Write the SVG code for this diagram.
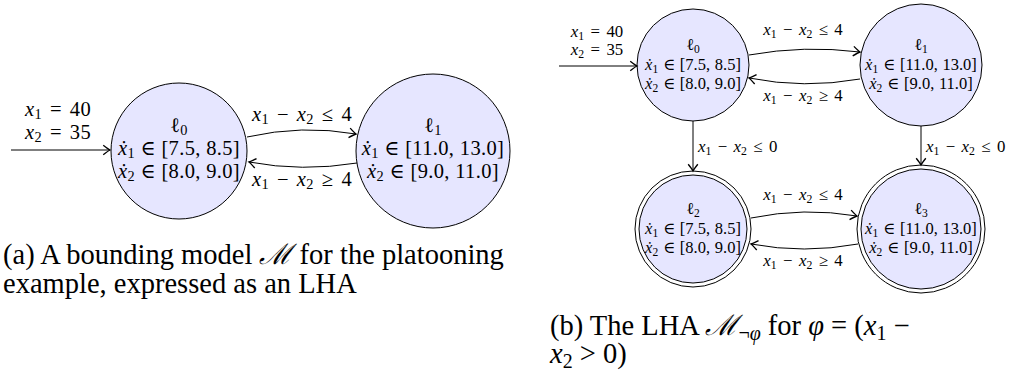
<svg xmlns="http://www.w3.org/2000/svg" width="1012" height="371" viewBox="0 0 1012 371">
<style>
text { font-family: "Liberation Serif", "DejaVu Serif", serif; fill: #000; }
.a { font-size: 20.5px; letter-spacing: 0.35px; text-anchor: middle; }
.al { font-size: 20.5px; letter-spacing: 0.35px; word-spacing: 2.5px; text-anchor: middle; }
.b { font-size: 16.5px; word-spacing: 0.6px; text-anchor: middle; }
.bl { font-size: 16.8px; word-spacing: 2.2px; text-anchor: middle; }
.bs { font-size: 16.8px; word-spacing: 2.2px; text-anchor: start; }
.cap { font-size: 28.5px; text-anchor: start; }
.i { font-style: italic; }
.node { fill: #e6e6ff; stroke: #000; stroke-width: 1; }
.ring { fill: #fff; stroke: #000; stroke-width: 1; }
.edge { fill: none; stroke: #000; stroke-width: 1; marker-end: url(#arr); }
</style>
<defs>
<marker id="arr" markerUnits="userSpaceOnUse" markerWidth="12" markerHeight="12" viewBox="-6 -4 8 8" refX="0" refY="0" orient="auto">
<path d="M-4.5,-3.2 Q-1.2,-0.6 0,0 Q-1.2,0.6 -4.5,3.2" fill="none" stroke="#000" stroke-width="0.9"/>
</marker>
</defs>

<!-- Panel (a) -->
<g id="a-l0">
<circle class="node" cx="179" cy="151" r="68"/>
<text class="a" x="179" y="132">ℓ<tspan font-size="0.7em" dy="3">0</tspan></text>
<text class="a" x="179" y="155"><tspan class="i">ẋ</tspan><tspan font-size="0.7em" dy="3">1</tspan><tspan dy="-3"> ∈ [7.5, 8.5]</tspan></text>
<text class="a" x="179" y="178"><tspan class="i">ẋ</tspan><tspan font-size="0.7em" dy="3">2</tspan><tspan dy="-3"> ∈ [8.0, 9.0]</tspan></text>
</g>
<g id="a-l1">
<circle class="node" cx="433" cy="151" r="77"/>
<text class="a" x="433" y="132">ℓ<tspan font-size="0.7em" dy="3">1</tspan></text>
<text class="a" x="433" y="155"><tspan class="i">ẋ</tspan><tspan font-size="0.7em" dy="3">1</tspan><tspan dy="-3"> ∈ [11.0, 13.0]</tspan></text>
<text class="a" x="433" y="178"><tspan class="i">ẋ</tspan><tspan font-size="0.7em" dy="3">2</tspan><tspan dy="-3"> ∈ [9.0, 11.0]</tspan></text>
</g>
<g id="a-edges">
<path class="edge" d="M11,150 L110,150"/>
<path class="edge" d="M247,137 Q302,124.5 356,134"/>
<path class="edge" d="M357,163 Q302,172 249,162"/>
<text class="al" x="58" y="116"><tspan class="i">x</tspan><tspan font-size="0.7em" dy="3">1</tspan><tspan dy="-3"> = 40</tspan></text>
<text class="al" x="58" y="139"><tspan class="i">x</tspan><tspan font-size="0.7em" dy="3">2</tspan><tspan dy="-3"> = 35</tspan></text>
<text class="al" x="302" y="121"><tspan class="i">x</tspan><tspan font-size="0.7em" dy="3">1</tspan><tspan dy="-3"> − </tspan><tspan class="i">x</tspan><tspan font-size="0.7em" dy="3">2</tspan><tspan dy="-3"> ≤ 4</tspan></text>
<text class="al" x="302" y="186"><tspan class="i">x</tspan><tspan font-size="0.7em" dy="3">1</tspan><tspan dy="-3"> − </tspan><tspan class="i">x</tspan><tspan font-size="0.7em" dy="3">2</tspan><tspan dy="-3"> ≥ 4</tspan></text>
</g>
<text class="cap" x="3" y="264">(a) A bounding model <tspan class="i">ℳ</tspan> for the platooning</text>
<text class="cap" x="3" y="293">example, expressed as an LHA</text>

<!-- Panel (b) -->
<g id="b-l0">
<circle class="node" cx="693" cy="65" r="56"/>
<text class="b" x="693" y="50">ℓ<tspan font-size="0.7em" dy="3">0</tspan></text>
<text class="b" x="693" y="70"><tspan class="i">ẋ</tspan><tspan font-size="0.7em" dy="3">1</tspan><tspan dy="-3"> ∈ [7.5, 8.5]</tspan></text>
<text class="b" x="693" y="89"><tspan class="i">ẋ</tspan><tspan font-size="0.7em" dy="3">2</tspan><tspan dy="-3"> ∈ [8.0, 9.0]</tspan></text>
</g>
<g id="b-l1">
<circle class="node" cx="921" cy="65" r="61"/>
<text class="b" x="921" y="50">ℓ<tspan font-size="0.7em" dy="3">1</tspan></text>
<text class="b" x="921" y="70"><tspan class="i">ẋ</tspan><tspan font-size="0.7em" dy="3">1</tspan><tspan dy="-3"> ∈ [11.0, 13.0]</tspan></text>
<text class="b" x="921" y="89"><tspan class="i">ẋ</tspan><tspan font-size="0.7em" dy="3">2</tspan><tspan dy="-3"> ∈ [9.0, 11.0]</tspan></text>
</g>
<g id="b-l2">
<circle class="ring" cx="693" cy="229" r="58"/>
<circle class="node" cx="693" cy="229" r="54"/>
<text class="b" x="693" y="214">ℓ<tspan font-size="0.7em" dy="3">2</tspan></text>
<text class="b" x="693" y="234"><tspan class="i">ẋ</tspan><tspan font-size="0.7em" dy="3">1</tspan><tspan dy="-3"> ∈ [7.5, 8.5]</tspan></text>
<text class="b" x="693" y="253"><tspan class="i">ẋ</tspan><tspan font-size="0.7em" dy="3">2</tspan><tspan dy="-3"> ∈ [8.0, 9.0]</tspan></text>
</g>
<g id="b-l3">
<circle class="ring" cx="921" cy="229" r="64"/>
<circle class="node" cx="921" cy="229" r="60"/>
<text class="b" x="921" y="214">ℓ<tspan font-size="0.7em" dy="3">3</tspan></text>
<text class="b" x="921" y="234"><tspan class="i">ẋ</tspan><tspan font-size="0.7em" dy="3">1</tspan><tspan dy="-3"> ∈ [11.0, 13.0]</tspan></text>
<text class="b" x="921" y="253"><tspan class="i">ẋ</tspan><tspan font-size="0.7em" dy="3">2</tspan><tspan dy="-3"> ∈ [9.0, 11.0]</tspan></text>
</g>
<g id="b-edges">
<path class="edge" d="M559,66 L637,66"/>
<path class="edge" d="M749,55 Q804,45 860,52"/>
<path class="edge" d="M860,79 Q804,89 749,78"/>
<path class="edge" d="M693,121 L693,171"/>
<path class="edge" d="M921,126 L921,165"/>
<path class="edge" d="M751,218 Q804,207 857,216"/>
<path class="edge" d="M858,244 Q804,254 751,244"/>
<text class="bl" x="597" y="37"><tspan class="i">x</tspan><tspan font-size="0.7em" dy="3">1</tspan><tspan dy="-3"> = 40</tspan></text>
<text class="bl" x="597" y="55"><tspan class="i">x</tspan><tspan font-size="0.7em" dy="3">2</tspan><tspan dy="-3"> = 35</tspan></text>
<text class="bl" x="803" y="35"><tspan class="i">x</tspan><tspan font-size="0.7em" dy="3">1</tspan><tspan dy="-3"> − </tspan><tspan class="i">x</tspan><tspan font-size="0.7em" dy="3">2</tspan><tspan dy="-3"> ≤ 4</tspan></text>
<text class="bl" x="803" y="101"><tspan class="i">x</tspan><tspan font-size="0.7em" dy="3">1</tspan><tspan dy="-3"> − </tspan><tspan class="i">x</tspan><tspan font-size="0.7em" dy="3">2</tspan><tspan dy="-3"> ≥ 4</tspan></text>
<text class="bs" x="698" y="152"><tspan class="i">x</tspan><tspan font-size="0.7em" dy="3">1</tspan><tspan dy="-3"> − </tspan><tspan class="i">x</tspan><tspan font-size="0.7em" dy="3">2</tspan><tspan dy="-3"> ≤ 0</tspan></text>
<text class="bs" x="926" y="152"><tspan class="i">x</tspan><tspan font-size="0.7em" dy="3">1</tspan><tspan dy="-3"> − </tspan><tspan class="i">x</tspan><tspan font-size="0.7em" dy="3">2</tspan><tspan dy="-3"> ≤ 0</tspan></text>
<text class="bl" x="803" y="200"><tspan class="i">x</tspan><tspan font-size="0.7em" dy="3">1</tspan><tspan dy="-3"> − </tspan><tspan class="i">x</tspan><tspan font-size="0.7em" dy="3">2</tspan><tspan dy="-3"> ≤ 4</tspan></text>
<text class="bl" x="803" y="266"><tspan class="i">x</tspan><tspan font-size="0.7em" dy="3">1</tspan><tspan dy="-3"> − </tspan><tspan class="i">x</tspan><tspan font-size="0.7em" dy="3">2</tspan><tspan dy="-3"> ≥ 4</tspan></text>
</g>
<text class="cap" x="550" y="335">(b) The LHA <tspan class="i">ℳ</tspan><tspan font-size="0.7em" dy="5">¬<tspan class="i">φ</tspan></tspan><tspan dy="-5"> for </tspan><tspan class="i">φ</tspan> = (<tspan class="i">x</tspan><tspan font-size="0.7em" dy="5">1</tspan><tspan dy="-5"> −</tspan></text>
<text class="cap" x="550" y="363"><tspan class="i">x</tspan><tspan font-size="0.7em" dy="5">2</tspan><tspan dy="-5"> &gt; 0)</tspan></text>
</svg>
